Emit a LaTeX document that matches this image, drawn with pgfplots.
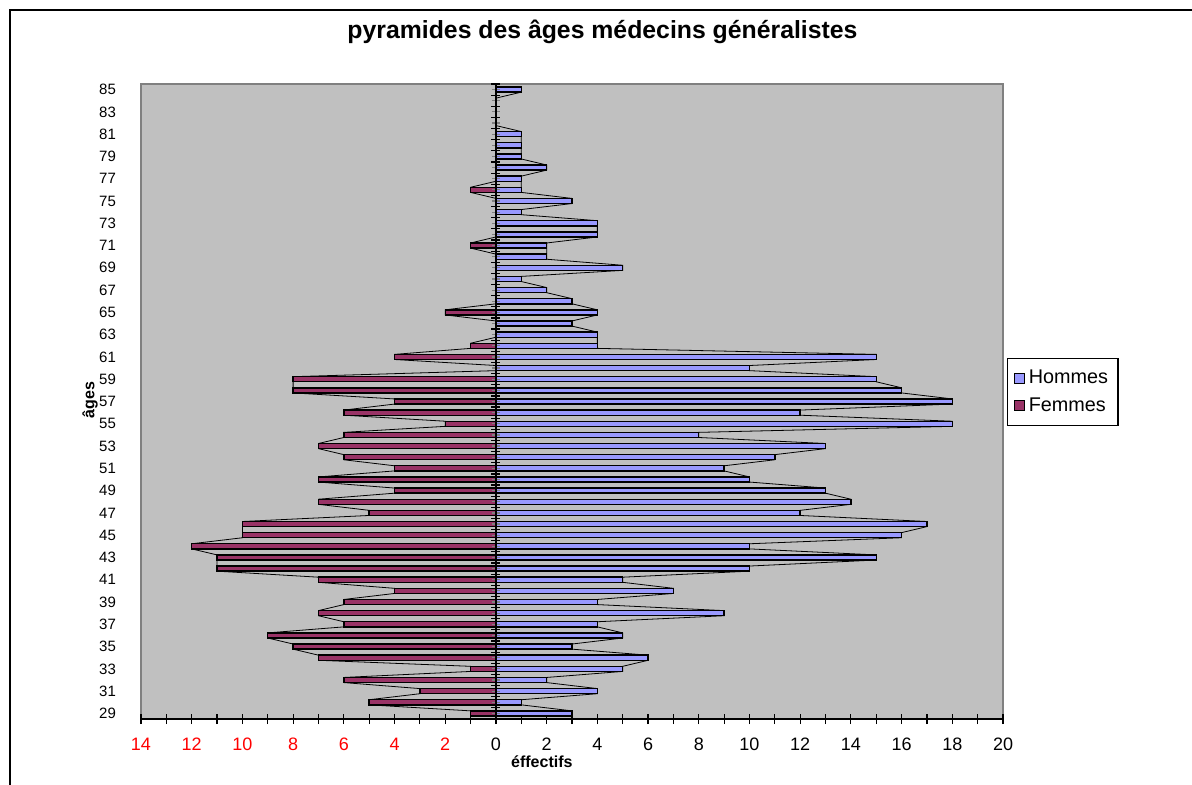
\documentclass[border=0pt]{standalone}
\usepackage{pgfplots}
\pgfplotsset{compat=1.18}
\usepackage{pgfplotstable}
\usepackage{fontspec}
\setmainfont{Liberation Sans}
\definecolor{plotgray}{HTML}{C0C0C0}
\definecolor{hommes}{HTML}{9999FF}
\definecolor{femmes}{HTML}{993366}

\pgfplotstableread{
age H F
29 3 1
30 1 5
31 4 3
32 2 6
33 5 1
34 6 7
35 3 8
36 5 9
37 4 6
38 9 7
39 4 6
40 7 4
41 5 7
42 10 11
43 15 11
44 10 12
45 16 10
46 17 10
47 12 5
48 14 7
49 13 4
50 10 7
51 9 4
52 11 6
53 13 7
54 8 6
55 18 2
56 12 6
57 18 4
58 16 8
59 15 8
60 10 0
61 15 4
62 4 1
63 4 0
64 3 0
65 4 2
66 3 0
67 2 0
68 1 0
69 5 0
70 2 0
71 2 1
72 4 0
73 4 0
74 1 0
75 3 0
76 1 1
77 1 0
78 2 0
79 1 0
80 1 0
81 1 0
82 0 0
83 0 0
84 0 0
85 1 0
}\data

% series lines (Excel style): bar end edges joined from one category to the next
\def\hcoords{}\def\fcoords{}
\pgfplotstablegetrowsof{\data}
\pgfmathtruncatemacro\lastrow{\pgfplotsretval-1}
\pgfplotsforeachungrouped \i in {0,...,\lastrow}{%
  \pgfplotstablegetelem{\i}{age}\of\data
  \pgfmathsetmacro\lo{\pgfplotsretval-0.23}%
  \pgfmathsetmacro\hi{\pgfplotsretval+0.23}%
  \pgfplotstablegetelem{\i}{H}\of\data \let\hv\pgfplotsretval
  \pgfplotstablegetelem{\i}{F}\of\data \pgfmathsetmacro\fv{-\pgfplotsretval}%
  \xdef\hcoords{\hcoords (\hv,\lo) (\hv,\hi)}%
  \xdef\fcoords{\fcoords (\fv,\lo) (\fv,\hi)}%
}

\begin{document}
\begin{tikzpicture}
\useasboundingbox (0,0) rectangle (596pt,-392.5pt);
% outer chart border
\draw[black, line width=1pt] (5pt,-393pt) -- (5pt,-5pt) -- (597pt,-5pt);
\node[font=\bfseries\fontsize{12.4}{14}\selectfont] at (301.25pt,-16pt) {pyramides des âges médecins généralistes};

\begin{axis}[
  at={(70.5pt,-359.5pt)}, anchor=south west,
  scale only axis, width=431pt, height=317.5pt,
  xmin=-14, xmax=20, ymin=28.5, ymax=85.5,
  axis background/.style={fill=plotgray, draw=gray, line width=0.6pt},
  axis x line*=bottom, axis y line*=left,
  x axis line style={black, line width=0.7pt, -},
  y axis line style={draw=none},
  xtick={-14,-12,...,20},
  xticklabels={\textcolor{red}{14},\textcolor{red}{12},\textcolor{red}{10},\textcolor{red}{8},\textcolor{red}{6},\textcolor{red}{4},\textcolor{red}{2},0,2,4,6,8,10,12,14,16,18,20},
  minor x tick num=1,
  tick align=center,
  major tick length=5pt, minor tick length=5pt,
  x tick style={black, line width=0.6pt},
  ytick={29,31,...,85},
  y tick style={draw=none},
  /pgf/number format/assume math mode=true,
  xticklabel style={font=\fontsize{9}{10}\selectfont, yshift=-3.5pt},
  yticklabel style={font=\fontsize{7.5}{9}\selectfont, xshift=-4pt},
  xlabel={éffectifs},
  xlabel style={font=\bfseries\fontsize{8}{9}\selectfont, at={(axis description cs:0.465,-0.068)}, anchor=center},
  clip=false,
  xbar, bar width=0.46, bar shift=0pt,
  legend style={at={(1.0046,0.515)}, anchor=west, draw=black, line width=0.6pt,
    font=\fontsize{9.9}{11}\selectfont, row sep=1.5pt, inner xsep=3pt, inner ysep=3.5pt, cells={anchor=west}},
  legend cell align=left,
  legend image code/.code={\draw[#1, draw=black, line width=0.6pt] (0pt,-2.5pt) rectangle (5pt,2.5pt);},
]
\edef\tmp{\noexpand\addplot[sharp plot, black, line width=0.4pt, forget plot] coordinates {\hcoords};}\tmp
\edef\tmp{\noexpand\addplot[sharp plot, black, line width=0.4pt, forget plot] coordinates {\fcoords};}\tmp
\addplot[xbar, fill=hommes, draw=black, line width=0.7pt] table[x=H, y=age] {\data};
\addlegendentry{Hommes}
\addplot[xbar, fill=femmes, draw=black, line width=0.7pt] table[x expr=-\thisrow{F}, y=age] {\data};
\addlegendentry{Femmes}
\node[rotate=90, font=\bfseries\fontsize{8}{9}\selectfont] at (axis description cs:-0.059,0.502) {âges};
\end{axis}

\begin{axis}[
  at={(70.5pt,-359.5pt)}, anchor=south west,
  scale only axis, width=431pt, height=317.5pt,
  xmin=-14, xmax=20, ymin=28.5, ymax=85.5,
  axis y line=center, axis x line=none,
  y axis line style={-, black, line width=0.7pt},
  ytick={28.5,29.5,...,85.5}, minor ytick={29,...,85},
  yticklabels={}, xtick=\empty,
  tick align=center,
  major tick length=4.5pt, minor tick length=4pt,
  major tick style={black, line width=0.6pt},
  minor tick style={gray, line width=0.6pt},
]
\end{axis}
\end{tikzpicture}
\end{document}
